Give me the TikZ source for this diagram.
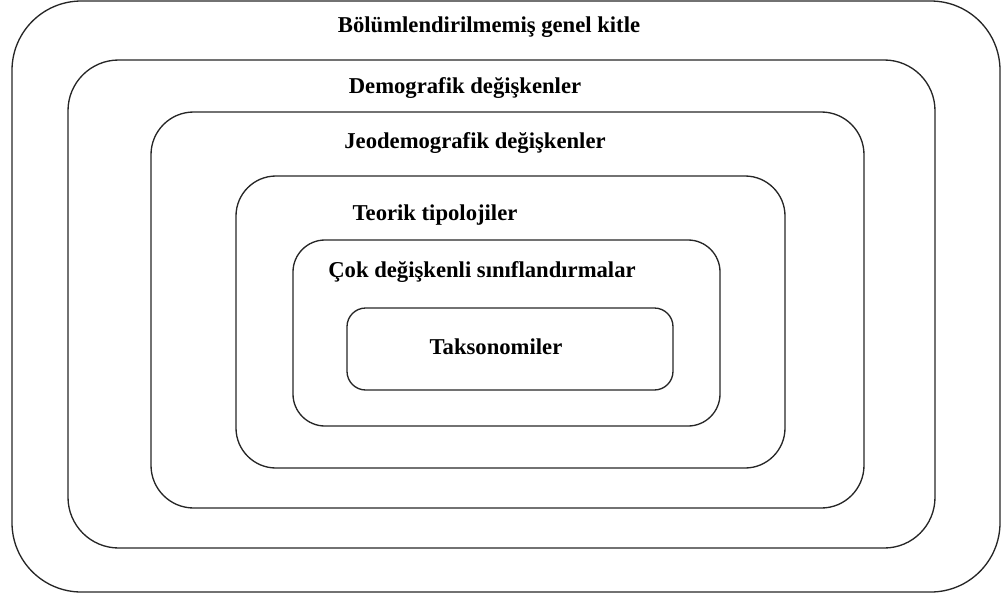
\documentclass[tikz,border=0pt]{standalone}
\usepackage{fontspec}
\setmainfont{Liberation Serif}
\begin{document}
\begin{tikzpicture}[x=0.75pt,y=-0.75pt,
  layer/.style={draw=black!85,line width=1pt},
  lbl/.style={font=\bfseries\fontsize{17}{19}\selectfont,inner sep=0pt}]
\useasboundingbox (0,0) rectangle (1003,593);
\draw[layer,rounded corners=52pt] (12,1) rectangle (1000,592);
\draw[layer,rounded corners=38pt] (68,60) rectangle (935,548);
\draw[layer,rounded corners=32pt] (151,112) rectangle (864,508);
\draw[layer,rounded corners=30pt] (236,176) rectangle (785,468);
\draw[layer,rounded corners=24pt] (293,240) rectangle (720,426);
\draw[layer,rounded corners=14pt] (347,308) rectangle (673,390);
\node[lbl] (l1) at (489,27) {Bölümlendirilmemiş genel kitle};
\node[lbl] (l2) at (465,88) {Demografik değişkenler};
\node[lbl] (l3) at (475,143) {Jeodemografik değişkenler};
\node[lbl] (l4) at (435,215) {Teorik tipolojiler};
\node[lbl] (l5) at (482,272) {Çok değişkenli sınıflandırmalar};
\node[lbl] (l6) at (496,347) {Taksonomiler};
\end{tikzpicture}
\end{document}
